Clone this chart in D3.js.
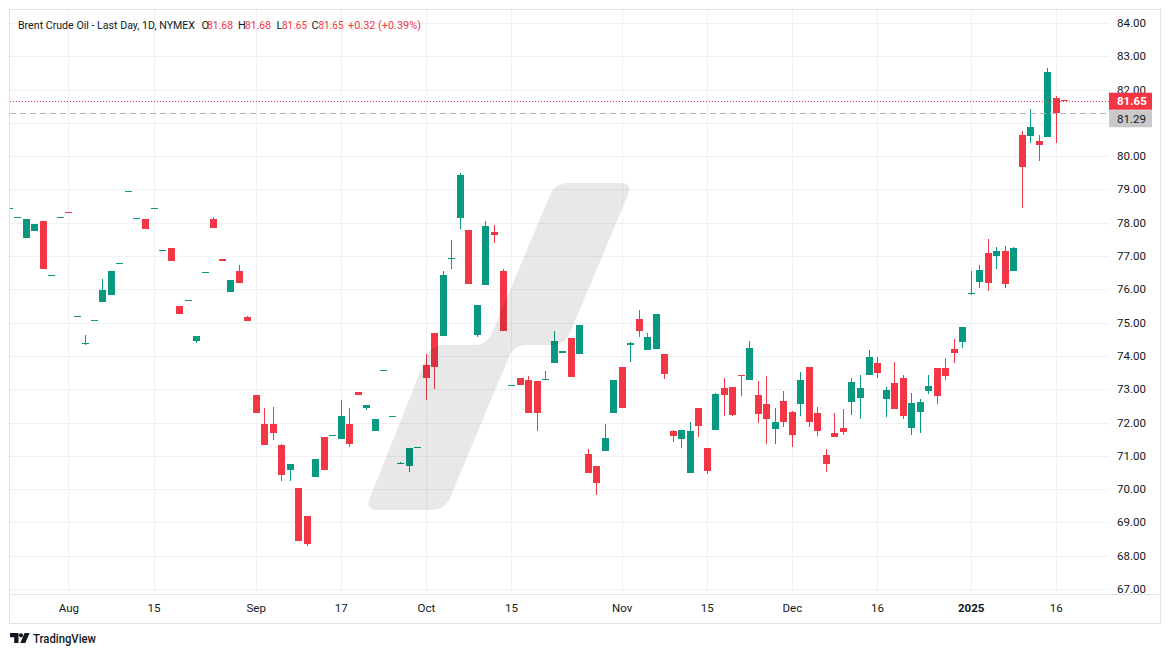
<!DOCTYPE html>
<html><head><meta charset="utf-8">
<script src="https://cdn.jsdelivr.net/npm/d3@7"></script>
<style>
html,body{margin:0;padding:0;background:#fff;}
svg{display:block;font-family:Roboto,"Liberation Sans",sans-serif;}
</style></head><body>
<svg id="c" width="1171" height="657"></svg>
<script>
const dates = [
"2024-07-23","2024-07-24","2024-07-25","2024-07-26","2024-07-29","2024-07-30","2024-07-31",
"2024-08-01","2024-08-02","2024-08-05","2024-08-06","2024-08-07","2024-08-08","2024-08-09","2024-08-12","2024-08-13","2024-08-14","2024-08-15","2024-08-16","2024-08-19","2024-08-20","2024-08-21","2024-08-22","2024-08-23","2024-08-26","2024-08-27","2024-08-28","2024-08-29","2024-08-30",
"2024-09-03","2024-09-04","2024-09-05","2024-09-06","2024-09-09","2024-09-10","2024-09-11","2024-09-12","2024-09-13","2024-09-16","2024-09-17","2024-09-18","2024-09-19","2024-09-20","2024-09-23","2024-09-24","2024-09-25","2024-09-26","2024-09-27","2024-09-30",
"2024-10-01","2024-10-02","2024-10-03","2024-10-04","2024-10-07","2024-10-08","2024-10-09","2024-10-10","2024-10-11","2024-10-14","2024-10-15","2024-10-16","2024-10-17","2024-10-18","2024-10-21","2024-10-22","2024-10-23","2024-10-24","2024-10-25","2024-10-28","2024-10-29","2024-10-30","2024-10-31",
"2024-11-01","2024-11-04","2024-11-05","2024-11-06","2024-11-07","2024-11-08","2024-11-11","2024-11-12","2024-11-13","2024-11-14","2024-11-15","2024-11-18","2024-11-19","2024-11-20","2024-11-21","2024-11-22","2024-11-25","2024-11-26","2024-11-27","2024-11-29",
"2024-12-02","2024-12-03","2024-12-04","2024-12-05","2024-12-06","2024-12-09","2024-12-10","2024-12-11","2024-12-12","2024-12-13","2024-12-16","2024-12-17","2024-12-18","2024-12-19","2024-12-20","2024-12-23","2024-12-24","2024-12-26","2024-12-27","2024-12-30","2024-12-31",
"2025-01-02","2025-01-03","2025-01-06","2025-01-07","2025-01-08","2025-01-09","2025-01-10","2025-01-13","2025-01-14","2025-01-15","2025-01-16","2025-01-17"];

const open = [
78.44,78.17,77.55,77.76,78.05,76.42,78.17,
78.33,75.20,74.37,75.07,75.63,75.84,76.78,78.95,78.13,78.11,78.44,77.17,77.24,75.50,75.67,74.46,76.51,78.11,76.91,75.93,76.55,75.17,
72.83,71.96,71.96,71.33,70.56,70.04,69.20,70.35,71.57,71.62,71.52,71.96,72.92,72.45,71.76,73.57,72.19,70.75,70.68,71.26,
73.73,74.69,74.61,76.92,78.15,77.78,74.63,76.14,77.72,76.55,73.12,73.34,73.28,73.25,73.29,73.80,74.08,74.54,74.07,71.06,70.70,71.13,72.30,
73.67,74.34,75.11,74.19,74.22,74.06,71.76,71.52,70.47,72.44,71.24,71.79,73.04,73.07,73.44,73.29,72.83,72.56,71.82,72.65,
72.32,72.57,73.67,72.29,71.03,71.69,71.84,72.63,72.75,73.44,73.79,72.72,73.19,73.34,71.85,72.33,72.95,73.64,73.64,74.21,74.43,
75.87,76.23,77.09,76.99,77.15,76.55,80.64,80.61,80.46,80.58,81.75,81.68];

const high = [
78.44,78.17,78.10,77.96,78.05,76.42,78.17,
78.33,75.20,74.63,75.07,76.31,76.55,76.78,78.95,78.13,78.11,78.44,77.17,77.24,75.50,75.67,74.60,76.51,78.17,76.91,76.28,76.73,75.20,
72.83,72.44,72.47,71.36,70.76,70.04,69.20,70.91,71.57,71.62,72.68,72.44,72.92,72.53,72.11,73.57,72.19,70.82,71.24,71.26,
74.06,74.69,76.55,77.48,79.50,77.78,75.53,78.05,77.93,76.61,73.12,73.34,73.40,73.25,73.55,74.75,74.15,74.54,74.93,71.21,70.70,71.96,73.28,
73.67,74.42,75.38,74.69,75.26,74.06,71.79,71.78,72.02,72.44,71.24,72.90,73.34,73.07,73.44,74.45,73.25,73.40,72.44,72.95,
72.36,73.52,73.67,72.47,71.21,72.29,72.41,73.34,73.43,74.18,73.97,73.07,73.82,73.43,72.89,72.71,73.43,73.64,73.94,74.51,74.87,
76.55,76.73,77.51,77.27,77.30,77.27,80.76,81.42,80.64,82.65,81.81,81.68];

const low = [
78.44,78.17,77.55,77.76,76.62,76.42,78.17,
78.31,75.20,74.34,75.07,75.63,75.84,76.78,78.95,78.13,77.81,78.44,77.17,76.86,75.27,75.67,74.40,76.51,77.85,76.86,75.93,76.20,75.06,
72.30,71.34,71.49,70.23,70.23,68.45,68.30,70.35,70.56,71.62,71.52,71.28,72.84,72.39,71.76,73.57,72.19,70.75,70.50,71.26,
72.69,73.02,74.61,76.61,77.82,76.17,74.57,76.14,77.40,74.76,73.12,73.14,72.30,71.76,73.29,73.80,74.08,73.38,74.07,70.47,69.81,71.13,72.30,
72.45,73.83,74.58,74.19,74.22,73.32,71.43,71.22,70.47,71.58,70.44,71.79,72.21,72.21,72.81,73.29,72.00,71.37,71.37,71.88,
71.28,72.21,71.87,71.60,70.50,71.58,71.64,72.24,72.12,73.44,73.35,72.18,72.42,72.12,71.64,71.70,72.87,72.57,73.29,73.80,74.25,
75.83,76.04,75.96,76.61,76.04,76.55,78.45,80.40,79.86,80.58,80.40,81.65];

const close = [
78.44,78.17,78.10,77.96,76.62,76.42,78.17,
78.31,75.20,74.39,75.07,75.98,76.55,76.78,78.95,78.13,77.81,78.44,77.17,76.86,75.27,75.67,74.60,76.51,77.85,76.86,76.28,76.20,75.06,
72.30,71.34,71.70,70.41,70.76,68.45,68.34,70.91,70.56,71.62,72.20,71.37,72.84,72.53,72.11,73.57,72.19,70.77,71.24,71.26,
73.35,73.68,76.43,76.94,79.44,76.17,75.53,77.90,77.64,74.76,73.12,73.14,72.30,72.30,73.31,74.45,74.15,73.38,74.93,70.47,70.17,71.54,73.28,
72.45,74.38,74.76,74.57,75.26,73.47,71.61,71.78,71.75,71.91,70.53,72.86,72.84,72.24,73.42,74.24,72.27,72.12,72.02,72.03,
71.64,73.28,72.03,71.76,70.74,71.58,71.73,73.22,73.04,73.97,73.50,72.98,72.42,72.21,72.59,72.62,73.09,72.81,73.41,74.10,74.87,
75.89,76.58,76.20,77.15,76.16,77.24,79.66,80.88,80.34,82.53,81.29,81.65];

const priceTicks = [67,68,69,70,71,72,73,74,75,76,77,78,79,80,81,82,83,84];
const timeTicks = ["2024-08-01","2024-08-15","2024-09-03","2024-09-17","2024-10-01","2024-10-15","2024-11-01","2024-11-15","2024-12-02","2024-12-16","2025-01-02","2025-01-16"];
const timeTickLabels = ["Aug","15","Sep","17","Oct","15","Nov","15","Dec","16","2025","16"];
const boldTicks = ["2025"];
const prevClose = 81.29;
const titleText = "Brent Crude Oil - Last Day, 1D, NYMEX";
const changeText = "+0.32 (+0.39%)";

const UP = "#089981", DOWN = "#F23645", TXT = "#131722";
const paneL = 10, paneR = 1109, paneT = 10, paneB = 594, axisR = 1160, axisB = 623;

const svg = d3.select("#c");
const x = d3.scalePoint().domain(dates).range([8.8, 1064.3]);
const y = d3.scaleLinear().domain([67, 84]).range([589, 23]);
const last = {o: open[open.length-1], h: high[high.length-1], l: low[low.length-1], c: close[close.length-1]};

svg.append("defs").append("clipPath").attr("id","pane")
  .append("rect").attr("x",paneL).attr("y",paneT).attr("width",paneR-paneL).attr("height",paneB-paneT);

// grid
const grid = svg.append("g");
grid.selectAll("line.h").data(priceTicks).enter().append("line")
  .attr("x1",paneL).attr("x2",paneR)
  .attr("y1",d=>Math.round(y(d))+0.5).attr("y2",d=>Math.round(y(d))+0.5)
  .attr("stroke","#f0f1f4").attr("stroke-width",1);
grid.selectAll("line.v").data(timeTicks).enter().append("line")
  .attr("y1",paneT).attr("y2",paneB)
  .attr("x1",d=>Math.round(x(d))+0.5).attr("x2",d=>Math.round(x(d))+0.5)
  .attr("stroke","#f0f1f4").attr("stroke-width",1);

// frame
svg.append("rect").attr("x",paneL-0.5).attr("y",paneT-0.5).attr("width",axisR-paneL+1).attr("height",axisB-paneT+1)
  .attr("fill","none").attr("stroke","#e0e3eb");
svg.append("line").attr("x1",paneL).attr("x2",axisR).attr("y1",paneB+0.5).attr("y2",paneB+0.5).attr("stroke","#e0e3eb");

// candles
const bars = dates.map((d,i)=>({d, o:open[i], h:high[i], l:low[i], c:close[i]}));
const cg = svg.append("g").attr("clip-path","url(#pane)");
const cand = cg.selectAll("g.c").data(bars).enter().append("g");
cand.append("rect")
  .attr("x",d=>Math.round(x(d.d)))
  .attr("width",1)
  .attr("y",d=>Math.round(y(d.h)))
  .attr("height",d=>Math.max(1,Math.round(y(d.l))-Math.round(y(d.h))))
  .attr("fill",d=>d.c>=d.o?UP:DOWN);
cand.append("rect")
  .attr("x",d=>Math.round(x(d.d))-3)
  .attr("width",7)
  .attr("y",d=>Math.round(y(Math.max(d.o,d.c))))
  .attr("height",d=>Math.max(1,Math.round(y(Math.min(d.o,d.c)))-Math.round(y(Math.max(d.o,d.c)))))
  .attr("fill",d=>d.c>=d.o?UP:DOWN);

// watermark
function roundedPath(pts, r){
  let s=""; const n=pts.length;
  for(let i=0;i<n;i++){
    const p0=pts[(i-1+n)%n], p1=pts[i], p2=pts[(i+1)%n];
    const v1=[p0[0]-p1[0],p0[1]-p1[1]], v2=[p2[0]-p1[0],p2[1]-p1[1]];
    const l1=Math.hypot(v1[0],v1[1]), l2=Math.hypot(v2[0],v2[1]);
    const rr=Math.min(r,l1/2,l2/2);
    const a=[p1[0]+v1[0]/l1*rr,p1[1]+v1[1]/l1*rr], b=[p1[0]+v2[0]/l2*rr,p1[1]+v2[1]/l2*rr];
    s+=(i===0?"M":"L")+a[0]+","+a[1]+"Q"+p1[0]+","+p1[1]+" "+b[0]+","+b[1];
  }
  return s+"Z";
}
const wm = [[555,183],[633,183],[565,345],[514,345],[445,510],[365,510],[431,345],[487,345]];
svg.append("path").attr("d",roundedPath(wm,13)).attr("fill","rgba(0,0,0,0.09)");

// last price / prev close lines
svg.append("line").attr("x1",paneL).attr("x2",paneR)
  .attr("y1",Math.round(y(last.c))+0.5).attr("y2",Math.round(y(last.c))+0.5)
  .attr("stroke",DOWN).attr("stroke-width",1).attr("stroke-dasharray","1,2");
svg.append("line").attr("x1",paneL).attr("x2",paneR)
  .attr("y1",Math.round(y(prevClose))+0.5).attr("y2",Math.round(y(prevClose))+0.5)
  .attr("stroke","#b2b5be").attr("stroke-width",1).attr("stroke-dasharray","6,4");

// price axis (labels hidden where the price boxes sit)
const boxY = [y(last.c), Math.max(y(prevClose), y(last.c)+17.5)];
const pa = svg.append("g");
pa.selectAll("text").data(priceTicks.filter(v=>boxY.every(b=>Math.abs(y(v)-b)>10.5))).enter().append("text")
  .attr("x",1117).attr("y",d=>y(d)+4)
  .attr("font-size","11.5px").attr("fill",TXT).text(d=>d.toFixed(2));

// price labels
const lbl = [[last.c, DOWN, "#fff", "bold"],[prevClose, "#c9c9c9", TXT, "normal"]];
lbl.forEach(([v,bg,fg,fw],i)=>{
  const cy = boxY[i];
  svg.append("rect").attr("x",1109).attr("y",cy-8.5).attr("width",43).attr("height",17).attr("fill",bg);
  svg.append("text").attr("x",1117).attr("y",cy+4).attr("font-size","11.5px").attr("font-weight",fw)
    .attr("fill",fg).text(v.toFixed(2));
});

// time axis
svg.append("g").selectAll("text").data(timeTicks).enter().append("text")
  .attr("x",d=>x(d)+0.5).attr("y",612).attr("text-anchor","middle")
  .attr("font-size","11.5px").attr("fill",TXT)
  .attr("font-weight",(d,i)=>boldTicks.includes(timeTickLabels[i])?"bold":"normal")
  .text((d,i)=>timeTickLabels[i]);

// header
const fmt = v=>v.toFixed(2);
const header = [
  [titleText, TXT, 18, 177],
  ["O", TXT, 201.5, 0], [fmt(last.o), DOWN, 207, 26],
  ["H", TXT, 238, 0], [fmt(last.h), DOWN, 245, 26],
  ["L", TXT, 276.5, 0], [fmt(last.l), DOWN, 282, 25],
  ["C", TXT, 311.5, 0], [fmt(last.c), DOWN, 318.5, 25],
  [changeText, DOWN, 348, 73]
];
const ht = svg.append("g").selectAll("text").data(header).enter().append("text")
  .attr("x",d=>d[2]).attr("y",29).attr("font-size","11px").attr("fill",d=>d[1]).text(d=>d[0]);
ht.filter(d=>d[3]>0).attr("textLength",d=>d[3]).attr("lengthAdjust","spacingAndGlyphs");

// TradingView logo
const logo = svg.append("g").attr("fill",TXT);
logo.append("path").attr("d","M10,633 h8.5 v10 h-4.3 v-5.8 h-4.2 z");
logo.append("circle").attr("cx",21).attr("cy",635.3).attr("r",2.1);
logo.append("path").attr("d","M24.6,633 h5 l-4.3,10 h-5 z");
logo.append("text").attr("x",33).attr("y",642.5).attr("font-size","13px").attr("font-weight","500")
  .attr("textLength",63).attr("lengthAdjust","spacingAndGlyphs")
  .attr("fill",TXT).text("TradingView");
</script>
</body></html>
